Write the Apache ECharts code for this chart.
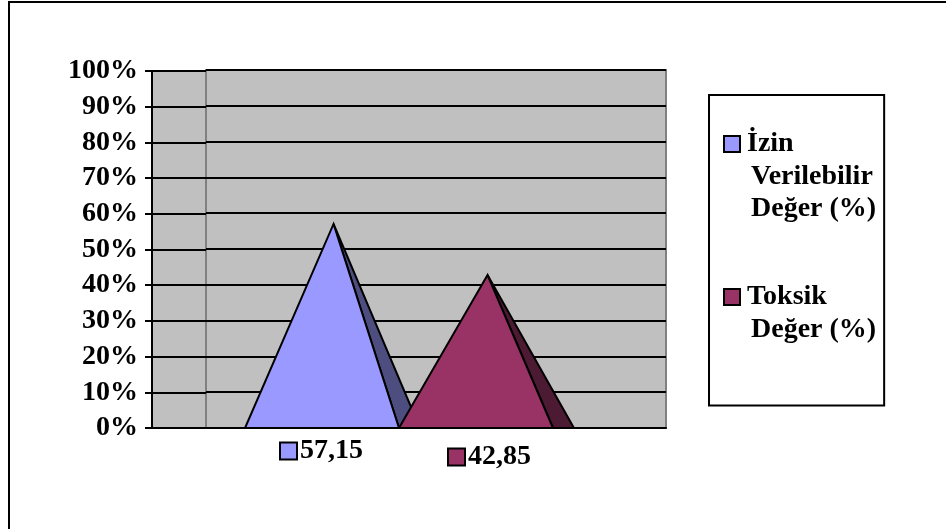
<!DOCTYPE html>
<html>
<head>
<meta charset="utf-8">
<script src="https://cdn.jsdelivr.net/npm/echarts@6/dist/echarts.min.js"></script>
<style>
  html, body { margin: 0; padding: 0; background: #fff; }
  #chart { width: 946px; height: 529px; }
</style>
</head>
<body>
<div id="chart"></div>
<script>
// data
const categories = ['57,15', '42,85'];
const seriesNames = ['İzin Verilebilir Değer (%)', 'Toksik Değer (%)'];
const izinValues = [57.15, null];
const toksikValues = [null, 42.85];
const legendLines = {
    'İzin Verilebilir Değer (%)': ['İzin', 'Verilebilir', 'Değer (%)'],
    'Toksik Değer (%)': ['Toksik', 'Değer (%)']
};

const serif = "'Liberation Serif', 'Times New Roman', serif";
const blue = '#9999FF', blueDark = '#4D4D80';
const maroon = '#993366', maroonDark = '#4D1A33';

function toPoints(values) {
    return values.map((v, i) => [i, v]).filter(d => d[1] != null);
}

// 3d-ish pyramid: front face + darker right face
function pyramid(front, side) {
    return function (params, api) {
        const i = api.value(0), v = api.value(1);
        const base = api.coord([i, 0]);
        const tip = api.coord([i, v]);
        const bw = api.size([1, 0])[0];
        const l = base[0] - bw / 2, r = base[0] + bw / 2;
        const apex = [base[0] + bw * 0.075, tip[1]];
        return {
            type: 'group',
            children: [
                { type: 'polygon', shape: { points: [apex, [r, base[1]], [r + bw * 0.136, base[1]]] },
                  style: { fill: side, stroke: '#000', lineWidth: 2 } },
                { type: 'polygon', shape: { points: [[l, base[1]], [r, base[1]], apex] },
                  style: { fill: front, stroke: '#000', lineWidth: 2 } }
            ]
        };
    };
}

const labelFont = { fontFamily: serif, fontWeight: 'bold', fontSize: 28, color: '#000' };

let chart = echarts.init(document.getElementById('chart'), null, { renderer: 'canvas' });
chart.setOption({
    animation: false,
    backgroundColor: '#fff',
    graphic: [{
        type: 'polyline', shape: { points: [[9, 529], [9, 2], [946, 2]] },
        style: { stroke: '#000', lineWidth: 2, fill: null }
    }],
    legend: {
        orient: 'vertical', left: 709, top: 95,
        padding: [35, 8, 62, 11],
        borderColor: '#000', borderWidth: 2,
        itemGap: 60, itemWidth: 0, itemHeight: 0,
        selectedMode: false,
        data: seriesNames,
        formatter: name => {
            const sq = name === seriesNames[0] ? 'sqA' : 'sqB';
            return legendLines[name].map((ln, k) =>
                (k === 0 ? '{' + sq + '|}{g|}' : '{sp|}') + '{t|' + ln + '}').join('\n');
        },
        textStyle: {
            rich: {
                sqA: { width: 14, height: 14, backgroundColor: blue, borderColor: '#000', borderWidth: 2 },
                sqB: { width: 14, height: 14, backgroundColor: maroon, borderColor: '#000', borderWidth: 2 },
                g: { width: 8 },
                sp: { width: 26 },
                t: Object.assign({ lineHeight: 32.5 }, labelFont)
            }
        }
    },
    grid: [
        { left: 152, width: 54, top: 71, bottom: 101, show: true, backgroundColor: '#C0C0C0', borderColor: '#808080', borderWidth: 2 },
        { left: 206, right: 280, top: 70, bottom: 101, show: true, backgroundColor: '#C0C0C0', borderColor: '#808080', borderWidth: 2 },
        { left: 245, width: 308, top: 71, bottom: 101 }
    ],
    xAxis: [
        { gridIndex: 0, type: 'value', min: 0, max: 1, axisLabel: { show: false }, axisTick: { show: false }, splitLine: { show: false },
          axisLine: { lineStyle: { color: '#000', width: 2 } } },
        { gridIndex: 1, type: 'value', min: 0, max: 1, axisLabel: { show: false }, axisTick: { show: false }, splitLine: { show: false },
          axisLine: { lineStyle: { color: '#000', width: 2 } } },
        { gridIndex: 2, type: 'category', data: categories, axisLine: { show: false }, axisTick: { show: false },
          axisLabel: {
              interval: 0,
              hideOverlap: false,
              margin: 8,
              formatter: (v, i) => i === 0
                  ? '{sqA|}{g|}{t|' + v + '}'
                  : '{sp2|}{sqB|}{g|}{u|' + v + '}',
              rich: {
                  sqA: { width: 15, height: 15, backgroundColor: blue, borderColor: '#000', borderWidth: 2 },
                  sqB: { width: 15, height: 15, backgroundColor: maroon, borderColor: '#000', borderWidth: 2 },
                  g: { width: 4 },
                  sp2: { width: 28 },
                  t: Object.assign({ lineHeight: 30 }, labelFont),
                  u: Object.assign({ lineHeight: 42 }, labelFont)
              }
          } }
    ],
    yAxis: [
        { gridIndex: 0, type: 'value', min: 0, max: 100, interval: 10,
          axisLine: { show: true, lineStyle: { color: '#000', width: 2 } },
          axisTick: { show: true, length: 7, lineStyle: { color: '#000', width: 2 } },
          axisLabel: Object.assign({ formatter: '{value}%', margin: 14 }, labelFont),
          splitLine: { lineStyle: { color: '#000', width: 2 } } },
        { gridIndex: 1, type: 'value', min: 0, max: 100, interval: 10,
          axisLine: { show: false }, axisTick: { show: false }, axisLabel: { show: false },
          splitLine: { lineStyle: { color: '#000', width: 2 } } },
        { gridIndex: 2, type: 'value', min: 0, max: 100, show: false }
    ],
    series: [
        { name: seriesNames[0], type: 'custom', xAxisIndex: 2, yAxisIndex: 2, color: blue,
          renderItem: pyramid(blue, blueDark), data: toPoints(izinValues) },
        { name: seriesNames[1], type: 'custom', xAxisIndex: 2, yAxisIndex: 2, color: maroon,
          renderItem: pyramid(maroon, maroonDark), data: toPoints(toksikValues) }
    ]
});
</script>
</body>
</html>
